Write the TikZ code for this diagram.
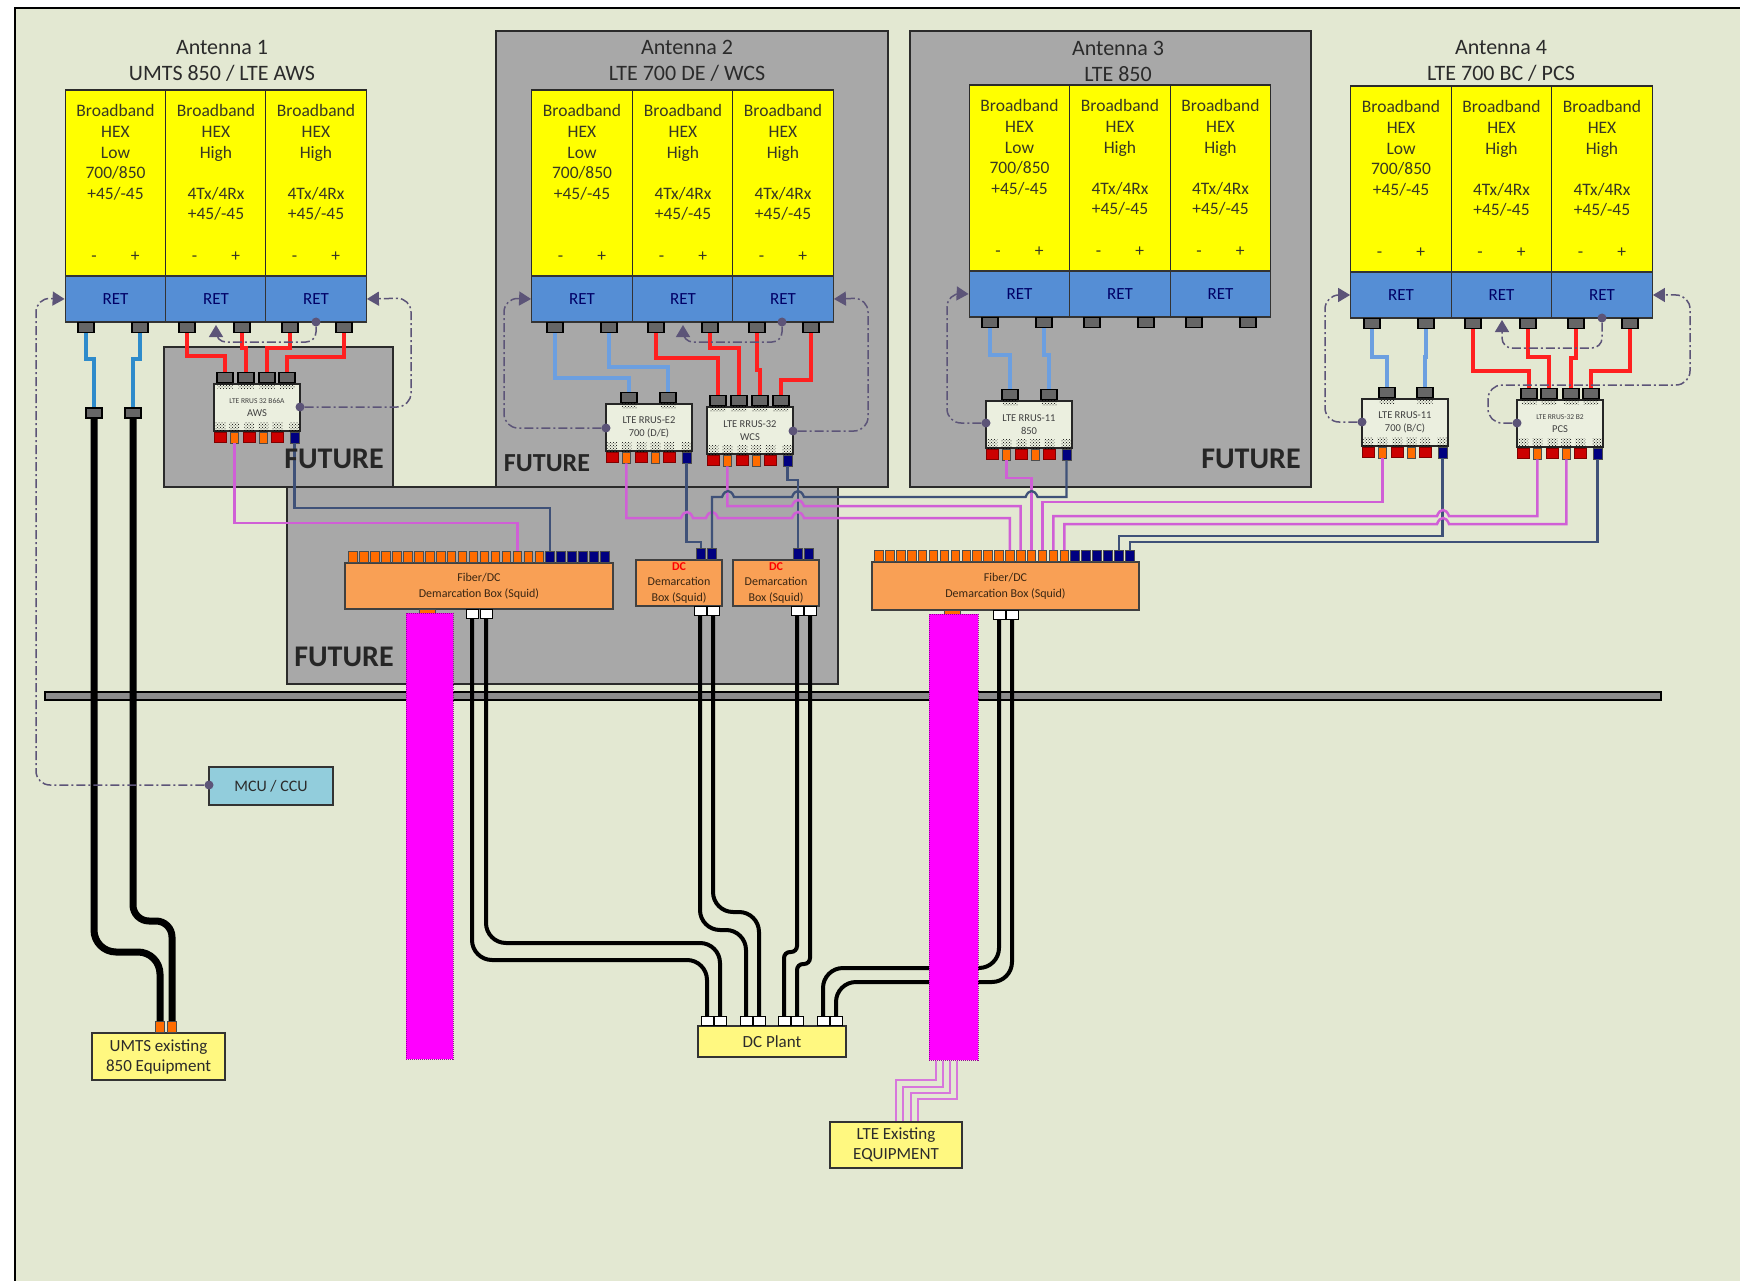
\documentclass[tikz,border=0pt]{standalone}
\usepackage{fontspec}
\setmainfont{Carlito}
\usepackage{xcolor}
\usetikzlibrary{arrows.meta,patterns}

\definecolor{paper}{HTML}{E3E8D2}
\definecolor{inkdark}{HTML}{2B2B2B}
\definecolor{hexyellow}{HTML}{FFFF00}
\definecolor{retblue}{HTML}{558ED5}
\definecolor{futuregrey}{HTML}{A8A8A8}
\definecolor{squid}{HTML}{F9A055}
\definecolor{ctrlpurple}{HTML}{5C5478}
\definecolor{fibrepink}{HTML}{D05FD6}
\definecolor{dcnavy}{HTML}{3F5178}
\definecolor{hotmagenta}{HTML}{FF00FF}
\definecolor{jumperred}{HTML}{FF2020}
\definecolor{jumperblue}{HTML}{6C9FE0}
\definecolor{jumpercyan}{HTML}{2E8BCB}
\definecolor{mcublue}{HTML}{92CDDC}

\newcommand{\jog}[4]{\draw[#1] (#2.south) -- (#2.south |- 0,#3) -- (#4.north |- 0,#3) -- (#4.north);}
\newcommand{\hop}[2]{-- (#1-6,#2) .. controls (#1-3,#2-8) and (#1+3,#2-8) .. (#1+6,#2)}
\newcommand{\lowtext}{Broadband\\HEX\\Low\\700/850\\+45/-45\\~\\~\\-\hspace{34pt}+}
\newcommand{\hightext}{Broadband\\HEX\\High\\~\\4Tx/4Rx\\+45/-45\\~\\-\hspace{34pt}+}
\newcommand{\rrus}[5]{
  \node[rrusbox] (#1) at (#2+43,#3+23.5) {#4\\#5};
  \foreach \i/\x/\s in {1/7/redport,2/21/orangeport,3/36/redport,4/50/orangeport,5/64/redport,6/81/navyport}{
    \node[\s,anchor=north] (#1b\i) at ([xshift=\x pt]#1.south west) {};
    \node[speckle,anchor=south] (#1s\i) at ([xshift=\x pt]#1.south west) {};
  }
}
\newcommand{\rrustop}[2]{
  \foreach \i/\x in {#2}{
    \node[retport,anchor=south] (#1t\i) at (#1.north -| \x,0) {};
    \node[speckle,anchor=north,minimum height=5pt,minimum width=15pt] (#1u\i) at (#1.north -| \x,0) {};
  }
}

\begin{document}
\begin{tikzpicture}[x=1pt,y=-1pt,
  panel/.style={draw=inkdark, line width=1.3pt, fill=hexyellow, minimum width=100.5pt, minimum height=186pt, inner sep=0pt, align=center, text=inkdark!85!olive, font=\fontsize{17.5}{20.6}\selectfont},
  retbox/.style={draw=black!80, line width=1.3pt, fill=retblue, minimum width=100.5pt, minimum height=46pt, inner sep=0pt, text=blue!40!black, font=\fontsize{17}{20}\selectfont},
  retport/.style={draw=black, line width=1.2pt, fill=black!60, minimum width=16pt, minimum height=10pt, inner sep=0pt},
  greybox/.style={draw=inkdark, line width=1.5pt, fill=futuregrey},
  future/.style={font=\bfseries\fontsize{30}{32}\selectfont, text=black!85},
  title/.style={text=inkdark, font=\fontsize{22}{26}\selectfont, align=center},
  rrusbox/.style={draw=black!85, line width=1.2pt, fill=paper!70!white, minimum width=86pt, minimum height=47pt, inner sep=0pt, align=center, text=black!75, font=\fontsize{10.5}{13}\selectfont},
  speckle/.style={pattern=crosshatch dots, pattern color=black, minimum width=10pt, minimum height=9pt, inner sep=0pt},
  redport/.style={draw=red!50!black, line width=.8pt, fill=red!80!black, minimum width=12pt, minimum height=10pt, inner sep=0pt},
  orangeport/.style={draw=black!70, line width=.8pt, fill=orange!85!red, minimum width=8.5pt, minimum height=11pt, inner sep=0pt},
  navyport/.style={draw=black!70, line width=.8pt, fill=blue!50!black, minimum width=9pt, minimum height=11pt, inner sep=0pt},
  whiteport/.style={draw=black, line width=.9pt, fill=white, minimum width=12pt, minimum height=9pt, inner sep=0pt},
  squidbox/.style={draw=black!75, line width=1.4pt, fill=squid, inner sep=0pt, align=center, text=black!70!brown, font=\fontsize{12}{16}\selectfont},
  palebox/.style={draw=black!80, line width=1.2pt, fill=yellow!50, inner sep=0pt, align=center, text=inkdark, font=\fontsize{17}{20}\selectfont},
  magentabox/.style={draw=hotmagenta!60!black, densely dotted, line width=1pt, fill=hotmagenta, minimum width=47pt, inner sep=0pt},
  redcable/.style={draw=jumperred, line width=4pt},
  bluecable/.style={draw=jumpercyan, line width=3.5pt},
  skycable/.style={draw=jumperblue, line width=3.5pt},
  pinkcable/.style={draw=fibrepink, line width=2.5pt},
  tailcable/.style={draw=fibrepink!85!white, line width=2.3pt},
  navycable/.style={draw=dcnavy, line width=2.3pt},
  blackcable/.style={draw=black, line width=4pt, rounded corners=20pt},
  thickcable/.style={draw=black, line width=7pt, rounded corners=22pt},
  ctrl/.style={draw=ctrlpurple, line width=1.5pt, rounded corners=14pt, dash pattern=on 9pt off 3pt on 2pt off 3pt, -{Triangle[length=12pt,width=14pt,fill=ctrlpurple]}},
  ctrldot/.style={circle, fill=ctrlpurple, minimum size=9pt, inner sep=0pt}
]
  \useasboundingbox (0,0) rectangle (1740,1281);
  % ===== SHEET =====
  \fill[white] (0,0) rectangle (1740,1281);
  \fill[paper] (15,8) rectangle (1740,1281);
  \draw[line width=1.6pt, draw=black] (15,1281) -- (15,8) -- (1740,8);

  % grey areas
  \node[greybox, minimum width=229pt, minimum height=140pt] (futureaws) at (278.5,417) {};
  \node[greybox, minimum width=392pt, minimum height=456pt] (future2) at (692,259) {};
  \node[greybox, minimum width=401pt, minimum height=456pt] (future3) at (1110.5,259) {};
  \node[greybox, minimum width=551pt, minimum height=197pt] (futurebox) at (562.5,585.5) {};

  % floor bar
  \node[draw=black, line width=1.5pt, fill=black!45, minimum width=1616pt, minimum height=8pt, inner sep=0pt] (bar) at (853,696) {};

  % ===== ANTENNA 1 =====
  \node[title] (a1title) at (222,61) {Antenna 1\\UMTS 850 / LTE AWS};
  \node[panel] (a1h1) at (115.5,183) {\lowtext};
  \node[panel] (a1h2) at (216,183) {\hightext};
  \node[panel] (a1h3) at (316,183) {\hightext};
  \node[retbox] (a1r1) at (115.5,299) {RET};
  \node[retbox] (a1r2) at (216,299) {RET};
  \node[retbox] (a1r3) at (316,299) {RET};
  \foreach \i/\x in {1/86,2/140,3/187,4/242,5/290,6/344}
    \node[retport,anchor=north] (a1p\i) at (\x,322) {};

  % ===== ANTENNA 2 =====
  \node[title] (a2title) at (687,61) {Antenna 2\\LTE 700 DE / WCS};
  \node[panel] (a2h1) at (582,183) {\lowtext};
  \node[panel] (a2h2) at (683,183) {\hightext};
  \node[panel] (a2h3) at (783,183) {\hightext};
  \node[retbox] (a2r1) at (582,299) {RET};
  \node[retbox] (a2r2) at (683,299) {RET};
  \node[retbox] (a2r3) at (783,299) {RET};
  \foreach \i/\x in {1/555,2/609,3/656,4/710,5/757,6/811}
    \node[retport,anchor=north] (a2p\i) at (\x,322) {};

  % ===== ANTENNA 3 =====
  \node[title] (a3title) at (1118,61) {Antenna 3\\LTE 850};
  \node[panel] (a3h1) at (1019.5,178) {\lowtext};
  \node[panel] (a3h2) at (1120,178) {\hightext};
  \node[panel] (a3h3) at (1220.5,178) {\hightext};
  \node[retbox] (a3r1) at (1019.5,294) {RET};
  \node[retbox] (a3r2) at (1120,294) {RET};
  \node[retbox] (a3r3) at (1220.5,294) {RET};
  \foreach \i/\x in {1/990,2/1044,3/1092,4/1146,5/1194,6/1248}
    \node[retport,anchor=north] (a3p\i) at (\x,317) {};

  % ===== ANTENNA 4 =====
  \node[title] (a4title) at (1501,61) {Antenna 4\\LTE 700 BC / PCS};
  \node[panel] (a4h1) at (1401,179) {\lowtext};
  \node[panel] (a4h2) at (1501.5,179) {\hightext};
  \node[panel] (a4h3) at (1602,179) {\hightext};
  \node[retbox] (a4r1) at (1401,295) {RET};
  \node[retbox] (a4r2) at (1501.5,295) {RET};
  \node[retbox] (a4r3) at (1602,295) {RET};
  \foreach \i/\x in {1/1372,2/1426,3/1473,4/1528,5/1576,6/1630}
    \node[retport,anchor=north] (a4p\i) at (\x,318) {};

  % ===== RRUS =====
  \rrus{aws}{214}{384}{{\fontsize{7.5}{10}\selectfont LTE RRUS 32 B66A}}{AWS}
  \rrustop{aws}{1/225,2/246,3/267,4/287}
  \rrus{eii}{606}{404}{LTE RRUS-E2}{700 (D/E)}
  \rrustop{eii}{1/629,2/668}
  \rrus{wcs}{707}{407}{LTE RRUS-32}{WCS}
  \rrustop{wcs}{1/718,2/739,3/760,4/781}
  \rrus{lowband}{986}{401}{LTE RRUS-11}{850}
  \rrustop{lowband}{1/1010,2/1049}
  \rrus{bc}{1362}{399}{LTE RRUS-11}{700 (B/C)}
  \rrustop{bc}{1/1387,2/1425}
  \rrus{pcs}{1517}{400}{{\fontsize{7.5}{10}\selectfont LTE RRUS-32 B2}}{PCS}
  \rrustop{pcs}{1/1529,2/1549,3/1571,4/1591}

  % ===== DEMARCATION =====
  \node[squidbox, minimum width=268pt, minimum height=46pt] (squidl) at (479,586) {Fiber/DC\\Demarcation Box (Squid)};
  \node[squidbox, minimum width=267pt, minimum height=48pt] (squidr) at (1005.5,586) {Fiber/DC\\Demarcation Box (Squid)};
  \node[squidbox, minimum width=86pt, minimum height=46pt, font=\fontsize{12}{15.5}\selectfont] (dcone) at (679,583) {\textcolor{red}{\textbf{DC}}\\Demarcation\\Box (Squid)};
  \node[squidbox, minimum width=86pt, minimum height=46pt, font=\fontsize{12}{15.5}\selectfont] (dctwo) at (776,583) {\textcolor{red}{\textbf{DC}}\\Demarcation\\Box (Squid)};
  \foreach \i [evaluate=\i as \x using 353+(\i-1)*10.96] in {1,...,18}
    \node[orangeport,anchor=south] (fl\i) at (\x,563) {};
  \foreach \i [evaluate=\i as \x using 353+(\i-1)*10.96] in {19,...,24}
    \node[navyport,anchor=south] (fl\i) at (\x,563) {};
  \foreach \i [evaluate=\i as \x using 879+(\i-1)*10.9] in {1,...,18}
    \node[orangeport,anchor=south] (fr\i) at (\x,562) {};
  \foreach \i [evaluate=\i as \x using 879+(\i-1)*10.9] in {19,...,24}
    \node[navyport,anchor=south] (fr\i) at (\x,562) {};
  \node[navyport,anchor=south] (dconen1) at (701,560) {};
  \node[navyport,anchor=south] (dconen2) at (712,560) {};
  \node[navyport,anchor=south] (dctwon1) at (798,560) {};
  \node[navyport,anchor=south] (dctwon2) at (809,560) {};
  \node[whiteport,anchor=north] (lwa) at (472,609) {};
  \node[whiteport,anchor=north] (lwb) at (486,609) {};
  \node[whiteport,anchor=north] (rwa) at (999,610) {};
  \node[whiteport,anchor=north] (rwb) at (1012,610) {};
  \node[whiteport,anchor=north] (dconewa) at (700,606) {};
  \node[whiteport,anchor=north] (dconewb) at (713,606) {};
  \node[whiteport,anchor=north] (dctwowa) at (797,606) {};
  \node[whiteport,anchor=north] (dctwowb) at (810,606) {};

  % ===== EQUIPMENT =====
  \node[palebox, minimum width=133pt, minimum height=47pt] (umts) at (158.5,1056.5) {UMTS existing\\850 Equipment};
  \node[palebox, minimum width=148pt, minimum height=31pt] (dcplant) at (772,1041.5) {DC Plant};
  \node[palebox, minimum width=132pt, minimum height=46pt] (lteold) at (896,1145) {LTE Existing\\EQUIPMENT};
  \node[draw=black!80, line width=1.2pt, fill=mcublue, minimum width=124pt, minimum height=38pt, inner sep=0pt, text=inkdark, font=\fontsize{16}{20}\selectfont] (mcu) at (271,786) {MCU / CCU};
  \foreach \i/\x in {1/707,2/720,3/746,4/759,5/784,6/797,7/823,8/836}
    \node[whiteport,anchor=south] (pl\i) at (\x,1026) {};
  \node[orangeport,anchor=south] (umtsa) at (160,1033) {};
  \node[orangeport,anchor=south] (umtsb) at (172,1033) {};
  \node[retport] (coaxa) at (94,413) {};
  \node[retport] (coaxb) at (133,413) {};

  % blue and red jumpers
  \jog{bluecable}{a1p1}{359}{coaxa}
  \jog{bluecable}{a1p2}{359}{coaxb}
  \jog{redcable}{a1p3}{356}{awst1}
  \jog{redcable}{a1p4}{348}{awst2}
  \jog{redcable}{a1p5}{348}{awst3}
  \jog{redcable}{a1p6}{357}{awst4}
  \jog{skycable}{a2p1}{378}{eiit1}
  \jog{skycable}{a2p2}{367}{eiit2}
  \jog{redcable}{a2p3}{358}{wcst1}
  \jog{redcable}{a2p4}{348}{wcst2}
  \jog{redcable}{a2p5}{370}{wcst3}
  \jog{redcable}{a2p6}{380}{wcst4}
  \jog{skycable}{a3p1}{355}{lowbandt1}
  \jog{skycable}{a3p2}{355}{lowbandt2}
  \jog{skycable}{a4p1}{357}{bct1}
  \jog{skycable}{a4p2}{357}{bct2}
  \jog{redcable}{a4p3}{371}{pcst1}
  \jog{redcable}{a4p4}{357}{pcst2}
  \jog{redcable}{a4p5}{358}{pcst3}
  \jog{redcable}{a4p6}{371}{pcst4}

  % fibre and dc to the squids
  \jog{pinkcable}{awsb2}{523}{fl16}
  \jog{navycable}{awsb6}{508}{fl19}
  \jog{navycable}{eiib6}{542}{dconen1}
  \jog{navycable}{wcsb6}{480}{dctwon1}
  \jog{pinkcable}{lowbandb2}{478}{fr15}
  \jog{pinkcable}{bcb2}{502}{fr16}
  \jog{navycable}{bcb6}{536}{fr23}
  \jog{navycable}{pcsb6}{542}{fr24}
  \draw[pinkcable] (eiib2.south) -- (eiib2.south |- 0,518) \hop{687}{518} \hop{712}{518} \hop{798}{518} -- (fr13.north |- 0,518) -- (fr13.north);
  \draw[pinkcable] (wcsb2.south) -- (wcsb2.south |- 0,506) \hop{798}{506} -- (fr14.north |- 0,506) -- (fr14.north);
  \draw[pinkcable] (fr17.north) -- (fr17.north |- 0,516) \hop{1443}{516} -- (pcsb2.south |- 0,516) -- (pcsb2.south);
  \draw[pinkcable] (fr18.north) -- (fr18.north |- 0,524) \hop{1443}{524} -- (pcsb4.south |- 0,524) -- (pcsb4.south);
  \draw[navycable] (dconen2.north) -- (dconen2.north |- 0,497) \hop{728}{497} \hop{798}{497} \hop{1031.6}{497} -- (lowbandb6.south |- 0,497) -- (lowbandb6.south);

  % power runs
  \draw[thickcable] (coaxa.south) -- (coaxa.south |- 0,952) -- (umtsa.north |- 0,952) -- (umtsa.north);
  \draw[thickcable, rounded corners=16pt] (coaxb.south) -- (coaxb.south |- 0,921) -- (umtsb.north |- 0,921) -- (umtsb.north);
  \jog{blackcable}{lwa}{960}{pl1}
  \jog{blackcable}{lwb}{943}{pl2}
  \jog{blackcable}{dconewa}{930}{pl3}
  \jog{blackcable}{dconewb}{912}{pl4}
  \jog{blackcable, rounded corners=6pt}{dctwowa}{952}{pl5}
  \jog{blackcable, rounded corners=6pt}{dctwowb}{964}{pl6}
  \jog{blackcable}{rwa}{968}{pl7}
  \jog{blackcable}{rwb}{982}{pl8}

  % ===== SQUID FANOUT =====
  \node[orangeport, minimum width=16pt, minimum height=5pt, anchor=north] (magltop) at (427,609) {};
  \node[orangeport, minimum width=16pt, minimum height=5pt, anchor=north] (magrtop) at (952,610) {};
  \node[magentabox, minimum height=446pt] (magl) at (429.5,836) {};
  \node[magentabox, minimum width=49pt, minimum height=446pt] (magr) at (953.5,837) {};
  \draw[tailcable] (magr.south -| 936,0) |- (896,1080) -- (lteold.north -| 896,0);
  \draw[tailcable] (magr.south -| 943,0) |- (903,1087) -- (lteold.north -| 903,0);
  \draw[tailcable] (magr.south -| 950,0) |- (911,1093) -- (lteold.north -| 911,0);
  \draw[tailcable] (magr.south -| 957,0) |- (918,1099) -- (lteold.north -| 918,0);

  % ===== CONTROL LOOPS =====
  \node[ctrldot] (mcudot) at (209,785) {};
  \node[ctrldot] (awsdot) at (300,407) {};
  \node[ctrldot] (a1dot) at (316,322) {};
  \node[ctrldot] (eiidot) at (606,428) {};
  \node[ctrldot] (wcsdot) at (793,431) {};
  \node[ctrldot] (a2dot) at (782,322) {};
  \node[ctrldot] (lowbanddot) at (986,423) {};
  \node[ctrldot] (bcdot) at (1362,422) {};
  \node[ctrldot] (pcsdot) at (1517,423) {};
  \node[ctrldot] (a4dot) at (1602,318) {};
  \coordinate (a1tip) at (216,325);
  \coordinate (a2tip) at (683,325);
  \coordinate (a4tip) at (1502,320);

  \draw[ctrl] (mcudot) -- (36,785) -- (36,298) -- (a1r1.west);
  \draw[ctrl] (awsdot) -- (411,407) -- (411,298) -- (a1r3.east);
  \draw[ctrl, rounded corners=10pt] (a1dot) -- (316,342) -- (216,342) -- (a1tip);
  \draw[ctrl] (eiidot) -- (504,428) -- (504,298) -- (a2r1.west);
  \draw[ctrl] (wcsdot) -- (868,431) -- (868,298) -- (a2r3.east);
  \draw[ctrl, rounded corners=10pt] (a2dot) -- (782,342) -- (683,342) -- (a2tip);
  \draw[ctrl] (lowbanddot) -- (947,423) -- (947,293) -- (a3r1.west);
  \draw[ctrl] (bcdot) -- (1325,422) -- (1325,295) -- (a4r1.west);
  \draw[ctrl, rounded corners=10pt] (a4dot) -- (1602,348) -- (1502,348) -- (a4tip);
  \draw[ctrl] (pcsdot) -- (1488,423) -- (1488,385) -- (1690,385) -- (1690,295) -- (a4r3.east);

  % future labels
  \node[future] (futurea) at (334,459) {FUTURE};
  \node[future, font=\bfseries\fontsize{26}{28}\selectfont] (futureb) at (547,463) {FUTURE};
  \node[future] (futurec) at (1251,459) {FUTURE};
  \node[future] (futured) at (344,657) {FUTURE};
\end{tikzpicture}
\end{document}
